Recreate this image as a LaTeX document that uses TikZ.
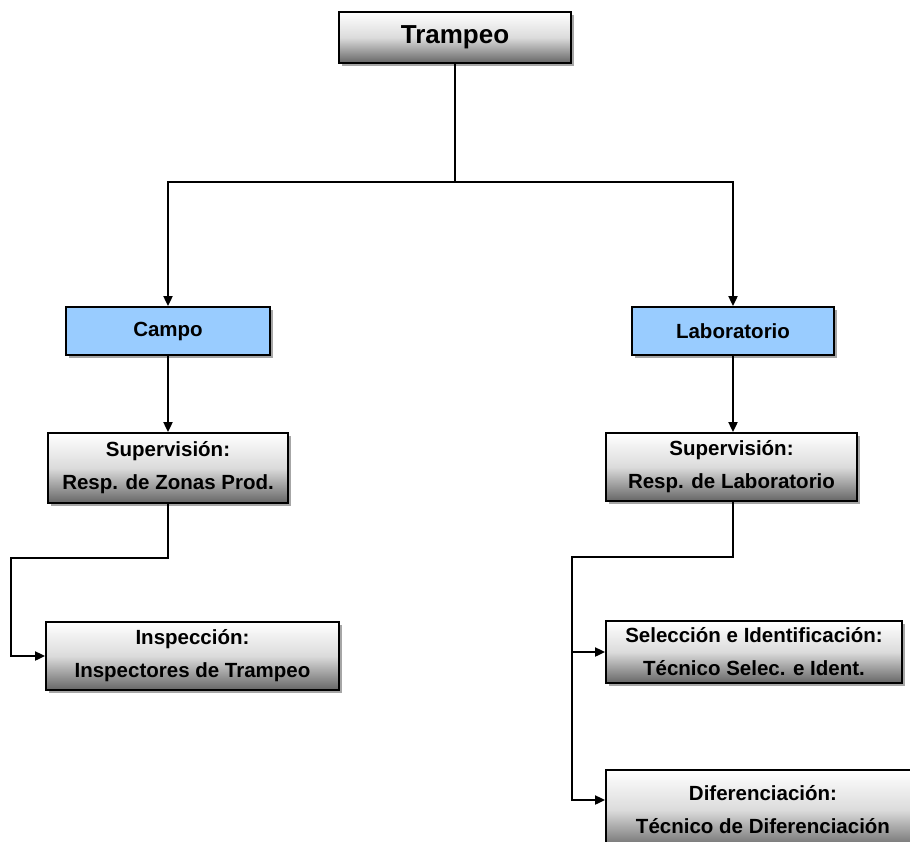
\documentclass[tikz,border=0pt]{standalone}
\usepackage{fontspec}
\setmainfont{Liberation Sans}
\usetikzlibrary{shadows,arrows.meta}
\begin{document}
\begin{tikzpicture}[x=1pt,y=-1pt,
  boxbase/.style={draw=black, line width=1.8pt, inner sep=0pt, align=center,
    font=\fontsize{20.5}{33}\selectfont\bfseries,
    drop shadow={shadow xshift=3pt, shadow yshift=-3pt, fill=black, opacity=0.35}},
  graybox/.style={boxbase, top color=white, bottom color=black!60, middle color=black!14},
  bluebox/.style={boxbase, fill=blueboxc},
  conn/.style={draw=black, line width=1.9pt},
  arr/.style={conn, -{Triangle[length=10pt,width=9pt]}}
]
\definecolor{blueboxc}{HTML}{99CCFF}
\useasboundingbox (0,0) rectangle (910,841);
\begin{scope}
\clip (0,0) rectangle (910,841);
\node[graybox, minimum width=232pt, minimum height=51pt, font=\fontsize{26}{30}\selectfont\bfseries] (tr) at (455,37.5) {Trampeo};
\node[bluebox, minimum width=204pt, minimum height=48pt] (campo) at (168,331) {Campo};
\node[bluebox, minimum width=202pt, minimum height=48pt] (lab) at (733,331) {Laboratorio};
\node[graybox, minimum width=240pt, minimum height=70pt] (sup1) at (168,468) {Supervisión:\\Resp. de Zonas Prod.};
\node[graybox, minimum width=251pt, minimum height=68pt] (sup2) at (731.5,467) {Supervisión:\\Resp. de Laboratorio};
\node[graybox, minimum width=293pt, minimum height=68pt] (insp) at (192.5,656) {Inspección:\\Inspectores de Trampeo};
\node[graybox, minimum width=296pt, minimum height=62pt] (sel) at (754,652) {Selección e Identificación:\\Técnico Selec. e Ident.};
\node[graybox, minimum width=314pt, minimum height=80pt] (dif) at (763,810) {Diferenciación:\\Técnico de Diferenciación};
\end{scope}
\coordinate (j1) at (455,182);
\coordinate (l1) at (11,558);
\coordinate (r1) at (572,557);
\coordinate (r2) at (572,800);
\draw[conn] (tr.south) -- (j1);
\draw[arr] (j1) -| (campo.north);
\draw[arr] (j1) -| (lab.north);
\draw[arr] (campo.south) -- (sup1.north);
\draw[arr] (lab.south) -- (lab.south |- sup2.north);
\draw[arr] (sup1.south) |- (l1) |- (insp.west);
\draw[arr] (sup2.south -| lab.south) |- (r1) |- (sel.west);
\draw[arr] (r1) -- (r2) -- (r2 -| dif.west);
\end{tikzpicture}
\end{document}
